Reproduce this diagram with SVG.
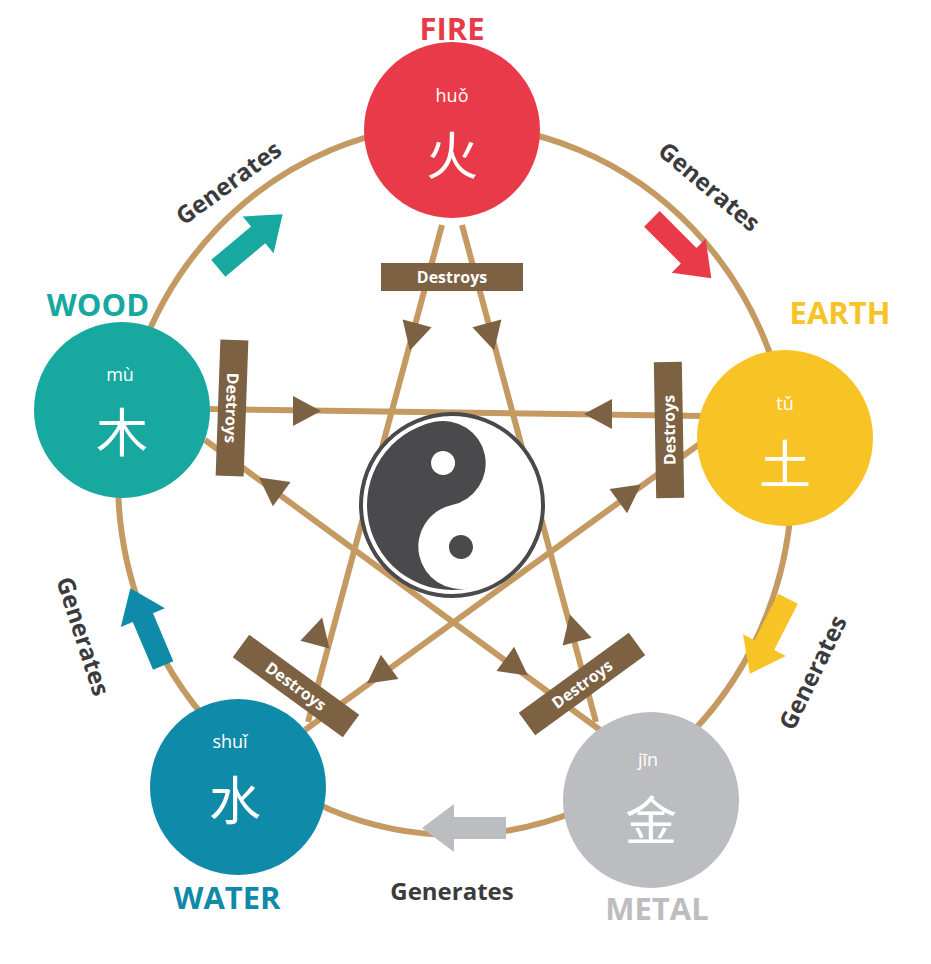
<svg xmlns="http://www.w3.org/2000/svg" xmlns:xlink="http://www.w3.org/1999/xlink" width="931" height="964" viewBox="0 0 931 964">
<style>
.ring{fill:none;stroke:#c49a62;stroke-width:6}
.star{stroke:#c49a62;stroke-width:6;fill:none}
.tri{fill:#7d6143}
.lab{fill:#7d6143}
.dtxt{font-family:"Open Sans","Liberation Sans",sans-serif;font-weight:700;font-size:16px;fill:#fff;text-anchor:middle;dominant-baseline:central}
.gen{font-family:"Open Sans","Liberation Sans",sans-serif;font-weight:700;font-size:24px;fill:#3b3b3d;text-anchor:middle;dominant-baseline:central}
.name{font-family:"Open Sans","Liberation Sans",sans-serif;font-weight:700;font-size:31px;text-anchor:middle}
.py{font-family:"Open Sans","Liberation Sans",sans-serif;font-size:18px;fill:#fff;text-anchor:middle}
.ch{font-family:"Noto Sans CJK SC",sans-serif;font-size:52px;fill:#fff;text-anchor:middle}
</style>
<defs>
<polygon id="t" points="16,0 -12,-15 -12,15"/>
<polygon id="ba" points="-44,-11 8,-11 8,-24 40,0 8,24 8,11 -44,11"/>
</defs>
<g id="connectors">
<ellipse class="ring" cx="455" cy="480" rx="337" ry="355"/>
<line class="star" x1="442" y1="225" x2="308" y2="722"/>
<line class="star" x1="462" y1="225" x2="596" y2="722"/>
<line class="star" x1="205" y1="409" x2="705" y2="416"/>
<line class="star" x1="205" y1="440" x2="600" y2="730"/>
<line class="star" x1="705" y1="440" x2="305" y2="730"/>
<use href="#t" class="tri" transform="translate(414,335) rotate(105)"/>
<use href="#t" class="tri" transform="translate(318,633) rotate(-75)"/>
<use href="#t" class="tri" transform="translate(490,335) rotate(75)"/>
<use href="#t" class="tri" transform="translate(574,630) rotate(-105)"/>
<use href="#t" class="tri" transform="translate(305,411) rotate(0)"/>
<use href="#t" class="tri" transform="translate(600,414) rotate(180)"/>
<use href="#t" class="tri" transform="translate(272,487) rotate(216)"/>
<use href="#t" class="tri" transform="translate(515,666) rotate(36)"/>
<use href="#t" class="tri" transform="translate(628,494) rotate(-36)"/>
<use href="#t" class="tri" transform="translate(380,674) rotate(144)"/>
<use href="#ba" fill="#17a8a0" transform="translate(252,240) rotate(-40)"/>
<use href="#ba" fill="#e83a48" transform="translate(683,250) rotate(45)"/>
<use href="#ba" fill="#f8c325" transform="translate(768,638) rotate(117)"/>
<use href="#ba" fill="#bcbdc0" transform="translate(462,828) rotate(180)"/>
<use href="#ba" fill="#0f8aa8" transform="translate(146,625) rotate(-113)"/>
<text class="gen" transform="translate(228,182) rotate(-36)">Generates</text>
<text class="gen" transform="translate(710,186) rotate(40)">Generates</text>
<text class="gen" transform="translate(812,672) rotate(-64)">Generates</text>
<text class="gen" transform="translate(452,890)">Generates</text>
<text class="gen" transform="translate(84,636) rotate(72)">Generates</text>
<g transform="translate(452,277)"><rect class="lab" x="-71" y="-14" width="142" height="28"/><text class="dtxt">Destroys</text></g>
<g transform="translate(232,408) rotate(92)"><rect class="lab" x="-68" y="-14" width="136" height="28"/><text class="dtxt">Destroys</text></g>
<g transform="translate(669,430) rotate(-91)"><rect class="lab" x="-68" y="-14" width="136" height="28"/><text class="dtxt">Destroys</text></g>
<g transform="translate(296,686) rotate(36)"><rect class="lab" x="-68" y="-14" width="136" height="28"/><text class="dtxt">Destroys</text></g>
<g transform="translate(582,684) rotate(-36)"><rect class="lab" x="-68" y="-14" width="136" height="28"/><text class="dtxt">Destroys</text></g>
</g>
<g id="yinyang" transform="translate(452,505) rotate(-12)">
<circle r="91" fill="#fff" stroke="#4a4a4c" stroke-width="4"/>
<path d="M0,-85 A85,85 0 0 0 0,85 A42.5,42.5 0 0 1 0,0 A42.5,42.5 0 0 0 0,-85 Z" fill="#4a4a4c"/>
<circle cx="0" cy="-43" r="12" fill="#fff"/>
<circle cx="0" cy="43" r="12" fill="#4a4a4c"/>
</g>
<g id="fire"><circle cx="452" cy="130" r="88" fill="#e83a48"/><text class="py" x="452" y="102">huǒ</text><text class="ch" x="452" y="175">火</text><text class="name" x="452" y="40" fill="#e83a48">FIRE</text></g>
<g id="earth"><circle cx="785" cy="438" r="88" fill="#f8c325"/><text class="py" x="785" y="410">tǔ</text><text class="ch" x="785" y="484">土</text><text class="name" x="840" y="324" fill="#f8c325">EARTH</text></g>
<g id="metal"><circle cx="651" cy="800" r="88" fill="#bcbdc0"/><text class="py" x="648" y="766">jīn</text><text class="ch" x="651" y="840">金</text><text class="name" x="657" y="920" fill="#bcbdc0">METAL</text></g>
<g id="water"><circle cx="238" cy="787" r="88" fill="#0f8aa8"/><text class="py" x="230" y="748">shuǐ</text><text class="ch" x="235" y="820">水</text><text class="name" x="227" y="909" fill="#0f8aa8">WATER</text></g>
<g id="wood"><circle cx="122" cy="410" r="88" fill="#17a8a0"/><text class="py" x="120" y="381">mù</text><text class="ch" x="122" y="452">木</text><text class="name" x="98" y="316" fill="#17a8a0">WOOD</text></g>
</svg>
